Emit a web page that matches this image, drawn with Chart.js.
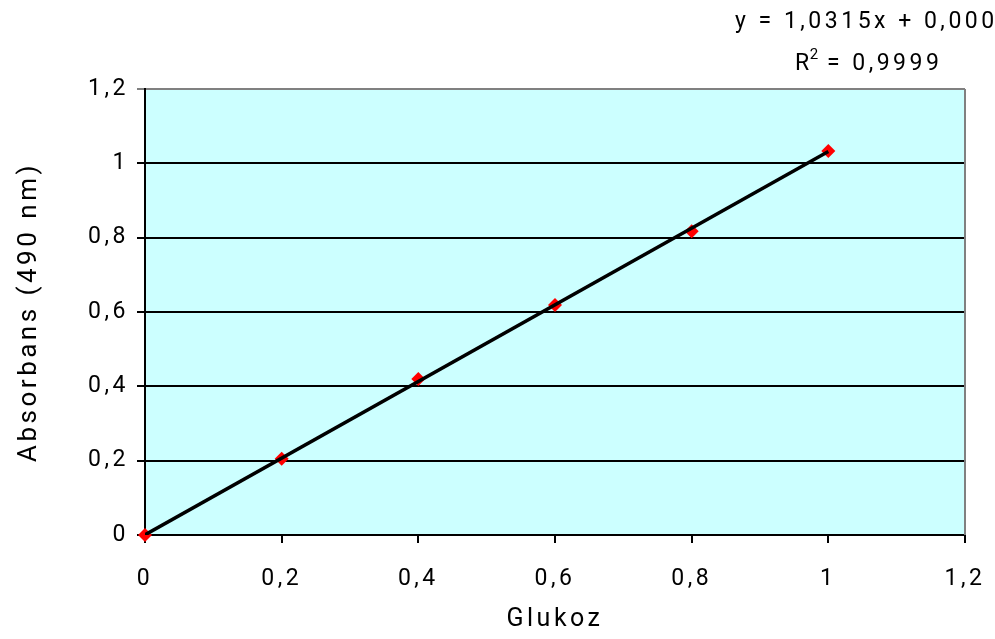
<!DOCTYPE html>
<html>
<head>
<meta charset="utf-8">
<script src="https://cdn.jsdelivr.net/npm/chart.js@4/dist/chart.umd.min.js"></script>
<style>
  html, body { margin: 0; padding: 0; background: #fff; }
  #wrap { width: 995px; height: 639px; }
</style>
</head>
<body>
<div id="wrap"><canvas id="chart"></canvas></div>
<script>
// Glucose standard curve
const glucose = [0, 0.2, 0.4, 0.6, 0.8, 1.0];
const absorbance = [0, 0.205, 0.42, 0.619, 0.817, 1.033];
const slope = 1.0315;
const intercept = 0.0004;
const equationText = 'y = 1,0315x + 0,0004';
const r2Value = '0,9999';
const xTitle = 'Glukoz';
const yTitle = 'Absorbans (490 nm)';

const FONT = 'Roboto, "DejaVu Sans", sans-serif';
const SPACING = '3.5px';
const fmt = v => String(+v.toFixed(1)).replace('.', ',');

const points = glucose.map((x, i) => ({ x: x, y: absorbance[i] }));
const trend = [glucose[0], glucose[glucose.length - 1]].map(x => ({ x: x, y: slope * x + intercept }));

// plot background, gray right border, trendline labels, wide letter spacing
const decorPlugin = {
    id: 'decor',
    beforeInit(chart) {
        chart.ctx.letterSpacing = SPACING;
    },
    beforeDraw(chart) {
        const { ctx, chartArea: a } = chart;
        ctx.letterSpacing = SPACING;
        ctx.save();
        ctx.fillStyle = '#CCFFFF';
        ctx.fillRect(a.left, a.top, a.right - a.left, a.bottom - a.top);
        ctx.restore();
    },
    afterDatasetsDraw(chart) {
        const { ctx, chartArea: a } = chart;
        ctx.save();
        ctx.strokeStyle = '#808080';
        ctx.lineWidth = 2;
        ctx.beginPath();
        ctx.moveTo(a.right, a.top);
        ctx.lineTo(a.right, a.bottom);
        ctx.stroke();
        ctx.restore();
    },
    afterDraw(chart) {
        const { ctx } = chart;
        ctx.save();
        ctx.fillStyle = '#000';
        ctx.font = '23px ' + FONT;
        ctx.letterSpacing = SPACING;
        ctx.textBaseline = 'alphabetic';
        ctx.textAlign = 'left';
        ctx.fillText(equationText, 735, 28);
        ctx.fillText('R', 795, 70);
        const rw = ctx.measureText('R').width;
        ctx.font = '15px ' + FONT;
        ctx.letterSpacing = '0px';
        ctx.fillText('2', 795 + rw - 3, 59);
        ctx.font = '23px ' + FONT;
        ctx.letterSpacing = SPACING;
        ctx.fillText(' = ' + r2Value, 795 + rw + 5, 70);
        ctx.restore();
    }
};

const ctx = document.getElementById('chart').getContext('2d');
const chart = new Chart(ctx, {
    type: 'scatter',
    data: {
        datasets: [
            {
                type: 'line',
                label: 'trend',
                data: trend,
                borderColor: '#000',
                borderWidth: 3.5,
                pointRadius: 0,
                fill: false,
                order: 0
            },
            {
                label: 'data',
                data: points,
                pointStyle: 'rectRot',
                pointRadius: 7,
                backgroundColor: '#FF0000',
                borderColor: '#FF0000',
                borderWidth: 0,
                clip: false,
                order: 1
            }
        ]
    },
    options: {
        responsive: true,
        maintainAspectRatio: false,
        animation: false,
        layout: { padding: { top: 89, right: 30, left: 0, bottom: 0 } },
        plugins: {
            legend: { display: false },
            tooltip: { enabled: false }
        },
        scales: {
            x: {
                type: 'linear',
                min: 0,
                max: 1.2,
                ticks: {
                    stepSize: 0.2,
                    color: '#000',
                    padding: 22,
                    font: { family: FONT, size: 23 },
                    callback: v => fmt(v)
                },
                grid: {
                    drawOnChartArea: false,
                    drawTicks: true,
                    tickLength: 8,
                    color: '#000',
                    lineWidth: 2
                },
                border: { color: '#000', width: 2 },
                title: {
                    display: true,
                    text: xTitle,
                    color: '#000',
                    font: { family: FONT, size: 25 },
                    padding: { top: 8 }
                },
                afterFit(scale) {
                    scale.height = 104;
                    scale.paddingRight = 0; // let the last label overhang the edge
                }
            },
            y: {
                type: 'linear',
                min: 0,
                max: 1.2,
                ticks: {
                    stepSize: 0.2,
                    color: '#000',
                    padding: 8,
                    font: { family: FONT, size: 23 },
                    callback: v => fmt(v)
                },
                grid: {
                    drawOnChartArea: true,
                    drawTicks: true,
                    tickLength: 8,
                    color: c => (c.tick && c.tick.value >= 1.19 ? '#808080' : '#000'),
                    lineWidth: 2
                },
                border: { color: '#000', width: 2 },
                title: {
                    display: true,
                    text: yTitle,
                    color: '#000',
                    font: { family: FONT, size: 26 },
                    padding: { top: 14, bottom: 0 }
                },
                afterFit(scale) { scale.width = 145; }
            }
        }
    },
    plugins: [decorPlugin]
});
</script>
</body>
</html>
